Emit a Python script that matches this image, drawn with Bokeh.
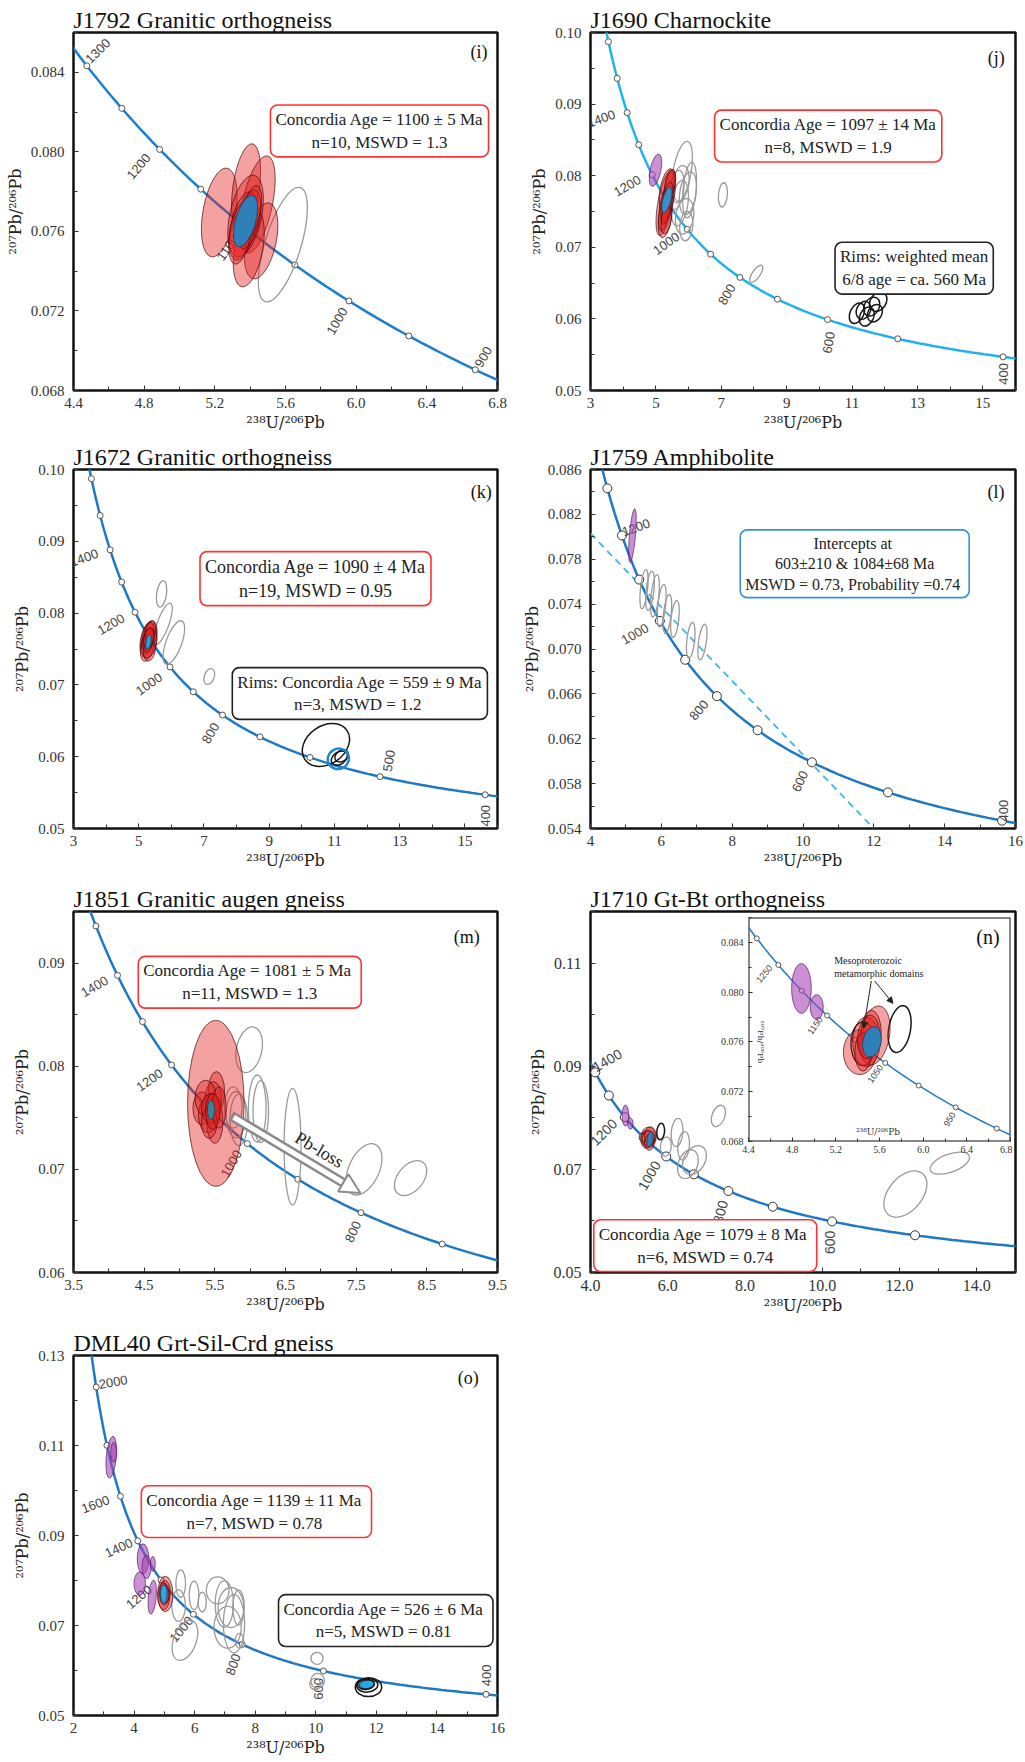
import numpy as np
from bokeh.plotting import figure
from bokeh.models import FixedTicker, NumeralTickFormatter, Label, Arrow, NormalHead, GridBox, BoxAnnotation
from bokeh.core.properties import value
from bokeh.embed import file_html
from bokeh.resources import INLINE

SERIF = "Liberation Serif"
LABEL_SERIF = "DejaVu Serif"
SANS = "Liberation Sans"
X_LABEL = "²³⁸U/²⁰⁶Pb"
Y_LABEL = "²⁰⁷Pb/²⁰⁶Pb"

# Tera-Wasserburg concordia (decay constants)
LAMBDA_238 = 1.55125e-10
LAMBDA_235 = 9.8485e-10
U238_U235 = 137.88
CURVE_AGES = list(range(300, 2605, 5))


def tera_wasserburg(ages_ma):
    t = np.asarray(ages_ma, dtype=float) * 1e6
    e8 = np.expm1(LAMBDA_238 * t)
    e5 = np.expm1(LAMBDA_235 * t)
    return 1.0 / e8, e5 / e8 / U238_U235

# ---------------- data: (x, y, width, height, tilt deg) ----------------
# (i) J1792
I_RED = [(5.225, 0.07695, 0.185, 0.00453, -10), (5.377, 0.07818, 0.150, 0.00450, -8),
         (5.440, 0.07735, 0.170, 0.00500, -12), (5.462, 0.07552, 0.170, 0.00390, -12),
         (5.392, 0.07518, 0.160, 0.00400, -10), (5.374, 0.07677, 0.180, 0.00420, -12),
         (5.360, 0.07627, 0.140, 0.00350, -12), (5.392, 0.07660, 0.120, 0.00300, -12),
         (5.345, 0.07593, 0.120, 0.00320, -10), (5.406, 0.07693, 0.100, 0.00280, -12)]
I_GRAY = [(5.585, 0.07533, 0.204, 0.00600, -17)]
I_BLUE = [(5.374, 0.07652, 0.113, 0.00267, -16)]
I_MARKER_AGES = [1300, 1250, 1200, 1150, 1100, 1050, 1000, 950, 900]
I_LABEL_AGES = [1300, 1200, 1100, 1000, 900]

# (j) J1690
J_PURPLE = [(4.988, 0.08076, 0.33, 0.0046, -12)]
J_RED = [(5.286, 0.07617, 0.45, 0.0092, -10), (5.336, 0.07801, 0.42, 0.0060, -10),
         (5.286, 0.07433, 0.40, 0.0060, -8), (5.386, 0.07709, 0.35, 0.0075, -10),
         (5.256, 0.07525, 0.30, 0.0060, -8), (5.435, 0.07893, 0.30, 0.0040, -10),
         (5.336, 0.07617, 0.30, 0.0060, -10), (5.316, 0.07387, 0.30, 0.0040, -8)]
J_BLUE = [(5.336, 0.07663, 0.25, 0.00367, -15)]
J_GRAY = [(5.80, 0.08050, 0.55, 0.0087, -10), (5.98, 0.07755, 0.50, 0.0060, -8),
          (5.73, 0.07617, 0.50, 0.0064, -8), (5.88, 0.07433, 0.55, 0.0050, -8),
          (5.93, 0.07296, 0.40, 0.0041, -5), (5.63, 0.07801, 0.45, 0.0055, -8),
          (6.03, 0.07801, 0.40, 0.0078, -5), (5.76, 0.07893, 0.50, 0.0050, -8),
          (7.05, 0.07732, 0.27, 0.0034, -5), (8.07, 0.06630, 0.24, 0.0028, -35)]
J_BLACK = [(11.15, 0.06079, 0.42, 0.0030, -25), (11.45, 0.06033, 0.42, 0.0028, -25),
           (11.60, 0.06171, 0.45, 0.0028, -30), (11.80, 0.06240, 0.48, 0.0029, -35),
           (11.35, 0.06120, 0.42, 0.0026, -25), (11.70, 0.06080, 0.42, 0.0026, -30)]
J_MARKER_AGES = [1600, 1500, 1400, 1300, 1200, 1100, 1000, 900, 800, 700, 600, 500, 400]
J_LABEL_AGES = [1400, 1200, 1000, 800, 600, 400]

# (k) J1672
K_RED = [(5.30, 0.07618, 0.50, 0.0050, -10), (5.26, 0.07550, 0.40, 0.0045, -10),
         (5.35, 0.07700, 0.40, 0.0040, -10), (5.32, 0.07580, 0.45, 0.0042, -10),
         (5.28, 0.07680, 0.35, 0.0040, -10), (5.33, 0.07480, 0.35, 0.0030, -10),
         (5.29, 0.07620, 0.30, 0.0035, -10), (5.36, 0.07740, 0.30, 0.0030, -10),
         (5.31, 0.07650, 0.30, 0.0030, -10)]
K_BLUE = [(5.30, 0.07600, 0.15, 0.0021, -10)]
K_GRAY = [(5.70, 0.08268, 0.30, 0.0037, -8), (5.745, 0.07850, 0.36, 0.0061, -20),
          (6.077, 0.07590, 0.48, 0.0064, -20), (7.163, 0.07117, 0.30, 0.0023, -20)]
K_BLACK = [(10.74, 0.06163, 1.57, 0.0053, 35), (11.15, 0.05980, 0.54, 0.0017, 35),
           (11.22, 0.06010, 0.45, 0.0015, 35)]
K_BLUE_RING = [(11.12, 0.05970, 0.66, 0.0028, 30)]
K_MARKER_AGES = [1600, 1500, 1400, 1300, 1200, 1100, 1000, 900, 800, 700, 600, 500, 400]
K_LABEL_AGES = [1400, 1200, 1000, 800, 500, 400]

# (l) J1759
L_PURPLE = [(5.183, 0.08011, 0.17, 0.0048, -5)]
L_GRAY = [(5.51, 0.07533, 0.20, 0.0035, -6), (5.68, 0.07518, 0.22, 0.0035, -6),
          (5.82, 0.07474, 0.22, 0.0038, -6), (6.01, 0.07386, 0.22, 0.0038, -6),
          (6.17, 0.07312, 0.22, 0.0035, -6), (6.385, 0.07268, 0.22, 0.0033, -6),
          (6.83, 0.07077, 0.22, 0.0032, -6), (7.16, 0.07062, 0.22, 0.0032, -8)]
L_DISCORDIA_X = [4.0, 12.0]
L_DISCORDIA_Y = [0.0803, 0.0540]
L_MARKER_AGES = [1300, 1200, 1100, 1000, 900, 800, 700, 600, 500, 400]
L_LABEL_AGES = [1200, 1000, 800, 600, 400]

# (m) J1851
M_RED = [(5.514, 0.07640, 0.80, 0.0161, 0), (5.315, 0.07592, 0.25, 0.0032, 0),
         (5.523, 0.07753, 0.23, 0.0039, 0), (5.407, 0.07528, 0.28, 0.0035, 0),
         (5.500, 0.07463, 0.23, 0.0042, 0), (5.480, 0.07690, 0.23, 0.0032, 0),
         (5.370, 0.07690, 0.30, 0.0035, 0), (5.450, 0.07590, 0.28, 0.0029, 0),
         (5.420, 0.07450, 0.22, 0.0030, 0), (5.470, 0.07560, 0.20, 0.0035, 0),
         (5.560, 0.07600, 0.20, 0.0040, 0)]
M_BLUE = [(5.445, 0.07576, 0.10, 0.0019, 0)]
M_GRAY = [(5.985, 0.08160, 0.36, 0.0045, -12), (5.800, 0.07530, 0.28, 0.0045, 0),
          (5.760, 0.07600, 0.25, 0.0040, 0), (5.840, 0.07480, 0.25, 0.0050, 0),
          (6.100, 0.07590, 0.25, 0.0065, 0), (6.150, 0.07560, 0.22, 0.0060, 0),
          (6.600, 0.07220, 0.24, 0.0113, 0), (7.611, 0.07000, 0.43, 0.0053, -25),
          (8.270, 0.06915, 0.36, 0.0039, -40)]
M_ARROW_X = [5.73, 7.56]
M_ARROW_Y = [0.0752, 0.0677]
M_MARKER_AGES = [1500, 1400, 1300, 1200, 1100, 1000, 900, 800, 700]
M_LABEL_AGES = [1400, 1200, 1000, 800]

# (n) J1710
N_PURPLE = [(4.904, 0.08043, 0.17, 0.0041, 0), (5.03, 0.07888, 0.14, 0.0022, 0)]
N_RED = [(5.50, 0.07617, 0.40, 0.0040, 0), (5.45, 0.07580, 0.30, 0.0035, 0),
         (5.55, 0.07650, 0.30, 0.0035, 0), (5.52, 0.07520, 0.25, 0.0030, 0)]
N_BLUE = [(5.54, 0.07585, 0.15, 0.0029, -10)]
N_BLACK = [(5.816, 0.07733, 0.20, 0.0032, -5), (5.50, 0.07600, 0.32, 0.0030, 0)]
N_GRAY = [(7.31, 0.08036, 0.33, 0.0043, -20), (6.24, 0.07714, 0.30, 0.0055, -5),
          (6.41, 0.07456, 0.30, 0.0055, -5), (6.52, 0.07100, 0.50, 0.0058, -20),
          (6.69, 0.07180, 0.55, 0.0060, -30), (5.95, 0.07440, 0.28, 0.0038, -5),
          (12.15, 0.06521, 0.87, 0.0104, -40), (13.30, 0.07120, 1.07, 0.0035, 20)]
N_MARKER_AGES = [1400, 1300, 1200, 1100, 1000, 900, 800, 700, 600, 500]
N_LABEL_AGES = [1400, 1200, 1000, 800, 600]

# (n) inset
INSET_PURPLE = [(4.885, 0.08030, 0.18, 0.0040, 0), (5.025, 0.07880, 0.12, 0.0020, 0)]
INSET_RED = [(5.419, 0.07518, 0.30, 0.0036, 0), (5.556, 0.07652, 0.27, 0.0048, -10),
             (5.480, 0.07600, 0.25, 0.0040, 0), (5.525, 0.07679, 0.18, 0.0035, 0),
             (5.449, 0.07520, 0.15, 0.0031, 0), (5.500, 0.07640, 0.20, 0.0035, -5)]
INSET_BLACK = [(5.449, 0.07585, 0.22, 0.0035, 0), (5.784, 0.07703, 0.20, 0.0038, -10)]
INSET_BLUE = [(5.531, 0.07601, 0.167, 0.00246, -12)]
INSET_MARKER_AGES = [1300, 1250, 1200, 1150, 1100, 1050, 1000, 950, 900]
INSET_LABEL_AGES = [1250, 1150, 1050, 950]

# (o) DML40
O_PURPLE = [(3.245, 0.1074, 0.33, 0.0093, -5), (3.33, 0.1085, 0.20, 0.0044, 0),
            (4.295, 0.0848, 0.38, 0.0067, 0), (4.187, 0.0793, 0.38, 0.0052, 0),
            (4.41, 0.0830, 0.30, 0.0052, 0), (4.62, 0.0837, 0.16, 0.0033, 0),
            (4.60, 0.0763, 0.26, 0.0076, -5)]
O_RED = [(5.03, 0.0770, 0.50, 0.0079, 0), (4.98, 0.0765, 0.40, 0.0060, 0),
         (5.02, 0.0775, 0.35, 0.0050, 0), (5.00, 0.0768, 0.30, 0.0045, 0)]
O_BLUE = [(4.98, 0.0770, 0.22, 0.0041, 0)]
O_GRAY = [(5.54, 0.0793, 0.32, 0.0061, 0), (5.47, 0.0744, 0.45, 0.0070, 0),
          (5.98, 0.0767, 0.32, 0.0063, 0), (6.25, 0.0752, 0.27, 0.0044, 0),
          (5.68, 0.0667, 0.75, 0.0093, -20), (6.76, 0.0778, 0.75, 0.0060, 0),
          (6.98, 0.0748, 0.60, 0.0104, 0), (7.20, 0.0740, 0.85, 0.0089, 0),
          (7.09, 0.0696, 0.90, 0.0093, 0), (7.30, 0.0704, 0.70, 0.0130, 0),
          (7.45, 0.0740, 0.38, 0.0078, 0), (7.48, 0.0666, 0.28, 0.0033, 0),
          (10.04, 0.0627, 0.40, 0.0027, 0), (10.06, 0.0577, 0.45, 0.0033, 0),
          (9.98, 0.0570, 0.35, 0.0025, 0)]
O_BLACK = [(11.74, 0.0563, 0.87, 0.0042, 0), (11.70, 0.0567, 0.70, 0.0030, 5),
           (11.66, 0.0569, 0.55, 0.0022, 5)]
O_BLUE_RIM = [(11.68, 0.0569, 0.48, 0.0019, 8)]
O_MARKER_AGES = [2000, 1800, 1600, 1400, 1200, 1000, 800, 600, 400]
O_LABEL_AGES = [2000, 1600, 1400, 1200, 1000, 800, 600, 400]

# ---------------- styles ----------------
RED_FILL = "#e3201e"
RED_LINE = "#4a0c0c"
PURPLE_FILL = "#a845b8"
PURPLE_LINE = "#5a1f66"
GRAY_LINE = "#9a9a9a"
BLACK_LINE = "#161616"
CURVE_BLUE = "#1f78c4"
CURVE_CYAN = "#1fb2ee"


def style_axes(p, tick_size, label_size, tick_in=5, minor_in=4):
    for ax in (p.xaxis[0], p.yaxis[0]):
        ax.axis_line_color = None
        ax.major_tick_in = tick_in
        ax.major_tick_out = 0
        ax.minor_tick_in = minor_in
        ax.minor_tick_out = 0
        ax.major_tick_line_color = "#333333"
        ax.minor_tick_line_color = "#333333"
        ax.major_label_text_font = SERIF
        ax.major_label_text_font_size = tick_size
        ax.major_label_text_color = "#333333"
        ax.axis_label_text_font = LABEL_SERIF
        ax.axis_label_text_font_size = label_size
        ax.axis_label_text_font_style = "normal"
        ax.axis_label_text_color = "#222222"


def make_panel(title, xr, yr, w, h, borders, xt, xm, yt, ym, xfmt, yfmt, tick_size="15px"):
    bl, br, bt, bb = borders
    p = figure(width=w, height=h, x_range=xr, y_range=yr, output_backend="svg",
               toolbar_location=None, min_border_left=bl, min_border_right=br,
               min_border_top=bt, min_border_bottom=bb, title=title)
    p.title.text_font = SERIF
    p.title.text_font_size = "24px"
    p.title.text_font_style = "normal"
    p.title.text_color = "#111111"
    p.title.align = "left"
    p.title.standoff = 0
    p.grid.grid_line_color = None
    p.outline_line_color = "#111111"
    p.outline_line_width = 2.5
    p.outline_line_alpha = 1.0
    p.xaxis.ticker = FixedTicker(ticks=xt, minor_ticks=xm)
    p.yaxis.ticker = FixedTicker(ticks=yt, minor_ticks=ym)
    p.xaxis.formatter = NumeralTickFormatter(format=xfmt)
    p.yaxis.formatter = NumeralTickFormatter(format=yfmt)
    style_axes(p, tick_size, "16px")
    p.xaxis.axis_label = X_LABEL
    p.yaxis.axis_label = Y_LABEL
    p.xaxis.major_label_standoff = 7
    p.xaxis.axis_label_standoff = 2
    p.yaxis.major_label_standoff = 9
    p.yaxis.axis_label_standoff = 3
    return p


def ellipses(p, rows, fill_color=None, fill_alpha=0.0, line_color="#333333", line_width=1.0, line_alpha=1.0):
    p.ellipse(x=[r[0] for r in rows], y=[r[1] for r in rows],
              width=[r[2] for r in rows], height=[r[3] for r in rows],
              angle=[r[4] for r in rows], angle_units="deg",
              fill_color=fill_color, fill_alpha=fill_alpha,
              line_color=line_color, line_width=line_width, line_alpha=line_alpha)


def concordia(p, color, marker_ages, label_ages, offsets, angles, msize=6, font="13px",
              lw=2.5, mline="#555555"):
    cx, cy = tera_wasserburg(CURVE_AGES)
    p.line(cx, cy, line_color=color, line_width=lw)
    mx, my = tera_wasserburg(marker_ages)
    p.scatter(mx, my, marker="circle", size=msize, fill_color="white", line_color=mline, line_width=1)
    lx, ly = tera_wasserburg(label_ages)
    p.text(x=lx, y=ly, text=[str(a) for a in label_ages],
           x_offset=[o[0] for o in offsets], y_offset=[o[1] for o in offsets],
           angle=angles, angle_units="deg", text_font=value(SANS), text_font_size=font,
           text_color="#444444", text_align="center", text_baseline="middle")


def box(p, x, y, text, color, size="17px"):
    p.add_layout(Label(x=x, y=y, text=text, text_align="center", text_baseline="middle",
                       text_font=SERIF, text_font_size=size, text_color="#222222",
                       border_line_color=color, border_line_width=1.6, border_radius=7,
                       background_fill_color="white", background_fill_alpha=1.0, padding=5))


def letter(p, x, y, text, size="18px"):
    p.add_layout(Label(x=x, y=y, text=text, text_align="right", text_baseline="top",
                       text_font=SERIF, text_font_size=size, text_color="#111111"))


def std_data(p, gray=(), black=(), purple=(), red=(), blue=(), blue_color="#2f7fb5"):
    if gray:
        ellipses(p, gray, line_color=GRAY_LINE, line_width=1.3)
    if black:
        ellipses(p, black, line_color=BLACK_LINE, line_width=1.5)
    if purple:
        ellipses(p, purple, fill_color=PURPLE_FILL, fill_alpha=0.6, line_color=PURPLE_LINE, line_width=1, line_alpha=0.7)
    if red:
        ellipses(p, red, fill_color=RED_FILL, fill_alpha=0.42, line_color=RED_LINE, line_width=1, line_alpha=0.7)
    if blue:
        ellipses(p, blue, fill_color=blue_color, fill_alpha=1.0, line_color="#1d4f70", line_width=1)


# ---------------- (i) ----------------
fi = make_panel("J1792 Granitic orthogneiss", (4.4, 6.8), (0.068, 0.086), 512, 440, (73, 15, 32, 48),
                [4.4, 4.8, 5.2, 5.6, 6.0, 6.4, 6.8], [4.6, 5.0, 5.4, 5.8, 6.2, 6.6],
                [0.068, 0.072, 0.076, 0.080, 0.084], [0.070, 0.074, 0.078, 0.082, 0.086], "0.0", "0.000")
concordia(fi, "#1c7ed2", I_MARKER_AGES, I_LABEL_AGES,
          [(11, -15), (-21, 17), (-18, 20), (-12, 20), (8, -13)], [45, 50, 55, 60, 60])
std_data(fi, gray=I_GRAY, red=I_RED, blue=I_BLUE, blue_color="#2f80b8")
box(fi, 6.132, 0.08105, "Concordia Age = 1100 ± 5 Ma\nn=10, MSWD = 1.3", "#ff3333")
letter(fi, 6.743, 0.0855, "(i)")

# ---------------- (j) ----------------
fj = make_panel("J1690 Charnockite", (3, 16), (0.05, 0.10), 513, 440, (70, 7, 27, 50),
                [3, 5, 7, 9, 11, 13, 15], [4, 6, 8, 10, 12, 14, 16],
                [0.05, 0.06, 0.07, 0.08, 0.09, 0.10], [0.055, 0.065, 0.075, 0.085, 0.095], "0", "0.00")
concordia(fj, CURVE_CYAN, J_MARKER_AGES, J_LABEL_AGES,
          [(-26, 6), (-25, 11), (-21, 14), (-13, 17), (1, 23), (0, 17)], [20, 30, 35, 60, 80, 90])
std_data(fj, gray=J_GRAY, black=J_BLACK, purple=J_PURPLE, red=J_RED, blue=J_BLUE, blue_color="#3a8fc6")
box(fj, 10.27, 0.08554, "Concordia Age = 1097 ± 14 Ma\nn=8, MSWD = 1.9", "#ff3333")
box(fj, 12.9, 0.06708, "Rims: weighted mean\n6/8 age = ca. 560 Ma", "#222222")
letter(fj, 15.67, 0.0978, "(j)")

# ---------------- (k) ----------------
fk = make_panel("J1672 Granitic orthogneiss", (3, 16), (0.05, 0.10), 512, 438, (68, 13, 29, 50),
                [3, 5, 7, 9, 11, 13, 15], [4, 6, 8, 10, 12, 14, 16],
                [0.05, 0.06, 0.07, 0.08, 0.09, 0.10], [0.055, 0.065, 0.075, 0.085, 0.095], "0", "0.00")
concordia(fk, CURVE_BLUE, K_MARKER_AGES, K_LABEL_AGES,
          [(-26, 8), (-24, 12), (-21, 17), (-12, 18), (9, -16), (0, 21)], [20, 30, 35, 60, 80, 90])
std_data(fk, gray=K_GRAY, black=K_BLACK, red=K_RED, blue=K_BLUE, blue_color="#1ea3e2")
ellipses(fk, K_BLUE_RING, line_color="#1a8ad8", line_width=2.5)
box(fk, 10.42, 0.0848, "Concordia Age = 1090 ± 4 Ma\nn=19, MSWD = 0.95", "#ff3333", size="18px")
box(fk, 11.78, 0.0688, "Rims: Concordia Age = 559 ± 9 Ma\nn=3, MSWD  = 1.2", "#222222")
letter(fk, 15.82, 0.0982, "(k)")

# ---------------- (l) ----------------
fl = make_panel("J1759 Amphibolite", (4, 16), (0.054, 0.086), 513, 438, (77, 10, 26, 50),
                [4, 6, 8, 10, 12, 14, 16], [5, 7, 9, 11, 13, 15],
                [0.054, 0.058, 0.062, 0.066, 0.070, 0.074, 0.078, 0.082, 0.086],
                [0.056, 0.060, 0.064, 0.068, 0.072, 0.076, 0.080, 0.084], "0", "0.000")
fl.line(L_DISCORDIA_X, L_DISCORDIA_Y, line_color="#3bb8ec", line_width=1.8, line_dash="7 5")
concordia(fl, CURVE_BLUE, L_MARKER_AGES, L_LABEL_AGES,
          [(14, -8), (-25, 13), (-18, 14), (-12, 19), (1, -10)], [20, 30, 50, 65, 90],
          msize=9, mline="#333333")
std_data(fl, gray=L_GRAY, purple=L_PURPLE)
box(fl, 11.46, 0.0776, "Intercepts  at\n603±210 & 1084±68 Ma\nMSWD = 0.73, Probability  =0.74", "#3a8fd6", size="16px")
letter(fl, 15.69, 0.08485, "(l)")

# ---------------- (m) ----------------
fm = make_panel("J1851 Granitic augen gneiss", (3.5, 9.5), (0.06, 0.095), 512, 441, (69, 10, 33, 46),
                [3.5, 4.5, 5.5, 6.5, 7.5, 8.5, 9.5], [4, 5, 6, 7, 8, 9],
                [0.06, 0.07, 0.08, 0.09], [0.065, 0.075, 0.085, 0.095], "0.0", "0.00")
concordia(fm, CURVE_BLUE, M_MARKER_AGES, M_LABEL_AGES,
          [(-23, 11), (-22, 15), (-16, 20), (-8, 19)], [30, 35, 60, 65])
std_data(fm, gray=M_GRAY, red=M_RED, blue=M_BLUE, blue_color="#3f8197")
fm.add_layout(Arrow(end=NormalHead(size=20, fill_color="white", line_color="#8a8a8a", line_width=2),
                    x_start=M_ARROW_X[0], y_start=M_ARROW_Y[0], x_end=M_ARROW_X[1], y_end=M_ARROW_Y[1],
                    line_color="#8a8a8a", line_width=10))
_fx = M_ARROW_X[0] + 0.02 * (M_ARROW_X[1] - M_ARROW_X[0])
_fy = M_ARROW_Y[0] + 0.02 * (M_ARROW_Y[1] - M_ARROW_Y[0])
_tx = M_ARROW_X[0] + 0.86 * (M_ARROW_X[1] - M_ARROW_X[0])
_ty = M_ARROW_Y[0] + 0.86 * (M_ARROW_Y[1] - M_ARROW_Y[0])
fm.add_layout(Arrow(end=None, x_start=_fx, y_start=_fy, x_end=_tx, y_end=_ty,
                    line_color="white", line_width=5))
fm.add_layout(Label(x=6.98, y=0.0719, text="Pb-loss", angle=-31, angle_units="deg",
                    text_align="center", text_baseline="middle", text_font=SERIF,
                    text_font_size="18px", text_color="#222222"))
box(fm, 5.994, 0.08814, "Concordia Age  = 1081 ± 5 Ma\nn=11, MSWD = 1.3", "#ff3333")
letter(fm, 9.25, 0.09345, "(m)")

# ---------------- (n) ----------------
fn = make_panel("J1710 Gt-Bt orthogneiss", (4, 15), (0.05, 0.12), 513, 441, (78, 5, 32, 47),
                [4, 6, 8, 10, 12, 14], [5, 7, 9, 11, 13, 15],
                [0.05, 0.07, 0.09, 0.11], [0.06, 0.08, 0.10, 0.12], "0.0", "0.00", tick_size="16px")
concordia(fn, CURVE_BLUE, N_MARKER_AGES, N_LABEL_AGES,
          [(12, -12), (-21, 15), (-17, 19), (-8, 21), (-2, 21)], [30, 45, 60, 75, 90],
          msize=9, font="14px", mline="#333333")
std_data(fn, gray=N_GRAY, black=N_BLACK, purple=N_PURPLE, red=N_RED, blue=N_BLUE, blue_color="#2f80b8")
box(fn, 6.97, 0.0552, "Concordia  Age = 1079 ± 8 Ma\nn=6, MSWD = 0.74", "#ff3333")

# inset of (n): its own figure, laid in a grid cell over panel (n)
fin = figure(width=295, height=244, x_range=(4.4, 6.8), y_range=(0.068, 0.086), output_backend="svg",
             toolbar_location=None, min_border_left=30, min_border_right=2, min_border_top=2,
             min_border_bottom=18, frame_align=False)
fin.border_fill_color = "white"
fin.border_fill_alpha = 0.0
fin.background_fill_color = "white"
fin.background_fill_alpha = 0.0
fin.outline_line_color = None
fin.grid.grid_line_color = None
fin.add_layout(BoxAnnotation(left=4.4, right=6.8, bottom=0.068, top=0.086, fill_color="white",
                             fill_alpha=1.0, line_color="#111111", line_width=2, line_alpha=1.0,
                             level="underlay"))
fin.xaxis.ticker = FixedTicker(ticks=[4.4, 4.8, 5.2, 5.6, 6.0, 6.4, 6.8], minor_ticks=[4.6, 5.0, 5.4, 5.8, 6.2, 6.6])
fin.yaxis.ticker = FixedTicker(ticks=[0.068, 0.072, 0.076, 0.080, 0.084], minor_ticks=[0.070, 0.074, 0.078, 0.082, 0.086])
fin.xaxis.formatter = NumeralTickFormatter(format="0.0")
fin.yaxis.formatter = NumeralTickFormatter(format="0.000")
style_axes(fin, "10px", "10px", tick_in=4, minor_in=3)
fin.xaxis.major_label_standoff = 4
fin.yaxis.major_label_standoff = 5
concordia(fin, CURVE_BLUE, INSET_MARKER_AGES, INSET_LABEL_AGES,
          [(-14, 9), (-12, 10), (-10, 11), (-6, 12)], [50, 55, 55, 60], msize=5, font="9px", lw=1.5)
std_data(fin, black=INSET_BLACK, purple=INSET_PURPLE, red=INSET_RED, blue=INSET_BLUE, blue_color="#2f80b8")
fin.add_layout(Label(x=5.185, y=0.0820, text="Mesoproterozoic\nmetamorphic  domains", text_align="left",
                     text_baseline="middle", text_font=SERIF, text_font_size="10px", text_color="#222222"))
fin.add_layout(Arrow(end=NormalHead(size=6, fill_color="#222222", line_color="#222222"),
                     x_start=5.525, y_start=0.0809, x_end=5.455, y_end=0.0771, line_color="#222222", line_width=1))
fin.add_layout(Arrow(end=NormalHead(size=6, fill_color="#222222", line_color="#222222"),
                     x_start=5.556, y_start=0.0809, x_end=5.723, y_end=0.0791, line_color="#222222", line_width=1))
fin.add_layout(Label(x=4.51, y=0.0760, text=Y_LABEL, angle=-90, angle_units="deg", text_align="center",
                     text_baseline="middle", text_font=LABEL_SERIF, text_font_size="8px", text_color="#333333"))
fin.add_layout(Label(x=5.586, y=0.0688, text=X_LABEL, text_align="center", text_baseline="middle",
                     text_font=LABEL_SERIF, text_font_size="9px", text_color="#333333"))
letter(fin, 6.70, 0.0853, "(n)", size="20px")

# ---------------- (o) ----------------
fo = make_panel("DML40 Grt-Sil-Crd gneiss", (2, 16), (0.05, 0.13), 512, 443, (70, 11, 36, 47),
                [2, 4, 6, 8, 10, 12, 14, 16], [3, 5, 7, 9, 11, 13, 15],
                [0.05, 0.07, 0.09, 0.11, 0.13], [0.06, 0.08, 0.10, 0.12], "0", "0.00")
concordia(fo, CURVE_BLUE, O_MARKER_AGES, O_LABEL_AGES,
          [(17, -5), (-25, 8), (-19, 7), (-22, 17), (-12, 15), (-9, 20), (-5, 18), (0, -19)],
          [10, 20, 25, 40, 50, 70, 90, 90])
std_data(fo, gray=O_GRAY, black=O_BLACK, purple=O_PURPLE, red=O_RED, blue=O_BLUE, blue_color="#2aa6e2")
ellipses(fo, O_BLUE_RIM, fill_color="#22a9e6", fill_alpha=1.0, line_color="#111111", line_width=1)
box(fo, 8.04, 0.0953, "Concordia Age  = 1139 ± 11 Ma\nn=7, MSWD  = 0.78", "#ff3333")
box(fo, 12.31, 0.0711, "Concordia Age  = 526 ± 6 Ma\nn=5, MSWD  = 0.81", "#222222")
letter(fo, 15.38, 0.1273, "(o)")

# grid tracks: the inset sits in its own cell (row 3, col 2) inside the span of panel (n)
grid = GridBox(children=[(fi, 0, 0, 1, 1), (fj, 0, 1, 1, 3),
                         (fk, 1, 0, 1, 1), (fl, 1, 1, 1, 3),
                         (fm, 2, 0, 3, 1), (fn, 2, 1, 3, 3), (fin, 3, 2, 1, 1),
                         (fo, 5, 0, 1, 1)],
               cols=["512px", "205px", "295px", "13px"],
               rows=["440px", "438px", "37px", "244px", "160px", "443px"],
               spacing=0)

open("out.html", "w").write(file_html(grid, INLINE, title="Concordia diagrams"))
